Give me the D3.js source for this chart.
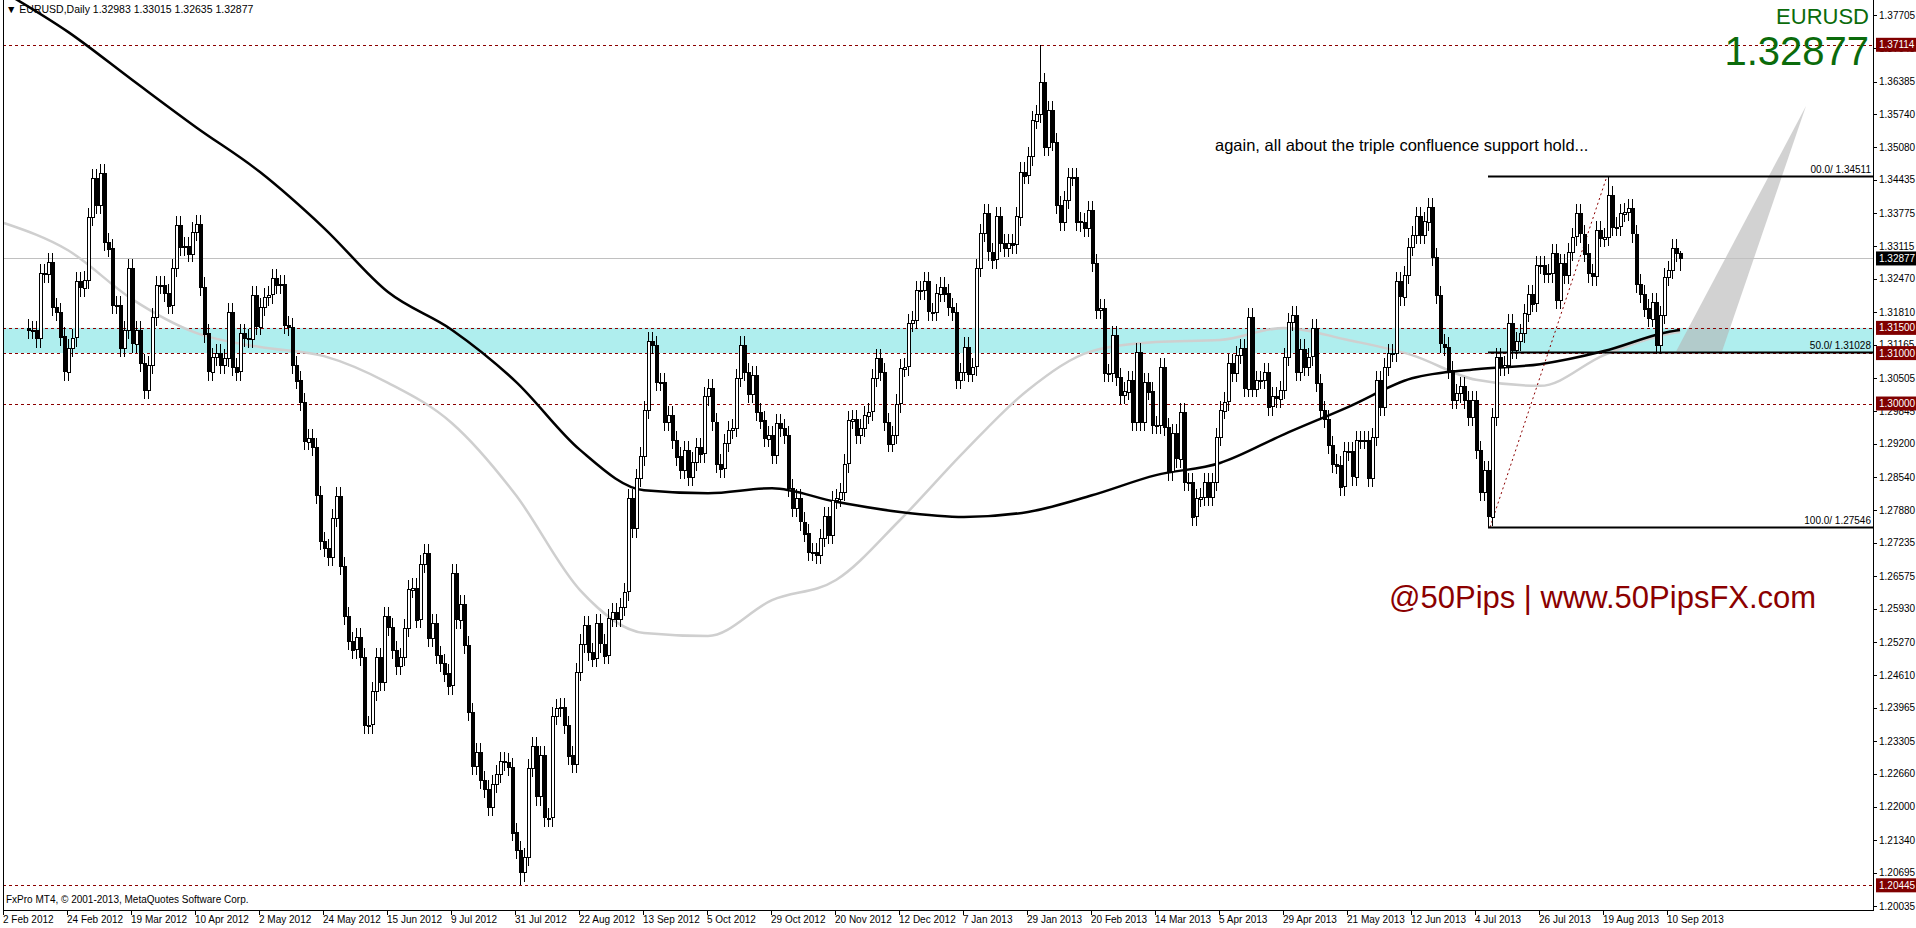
<!DOCTYPE html>
<html>
<head>
<meta charset="utf-8">
<script src="https://cdn.jsdelivr.net/npm/d3@7"></script>
<style>
  body { margin: 0; background: #fff; overflow: hidden; }
  svg { display: block; font-family: "Liberation Sans", Arial, sans-serif; }
</style>
</head>
<body>
<div id="chart"></div>
<script>
// daily closes, in pips above 1.20000 (1150 = 1.31500)
const closes = [
  1146,1145,1129,1258,1258,1281,1192,1182,1133,1063,1110,1130,1242,1230,1245,1370,
  1447,1394,1457,1321,1308,1195,1195,1110,1146,1268,1119,1146,1080,1027,1076,1172,
  1235,1235,1220,1195,1268,1354,1311,1313,1298,1341,1356,1232,1139,1063,1093,1100,
  1077,1090,1182,1073,1063,1139,1130,1128,1215,1153,1192,1212,1216,1248,1235,1237,
  1156,1152,1077,1046,1003,925,932,914,819,727,713,695,773,816,678,578,
  529,512,536,497,363,363,429,497,447,578,557,511,480,497,554,632,
  635,572,681,703,535,564,501,486,465,440,663,571,603,521,388,281,
  309,253,235,200,246,266,291,289,280,150,114,70,100,277,320,220,
  302,179,179,380,396,398,363,302,285,
  468,524,561,508,495,564,524,501,574,587,574,597,627,812,752,852,
  895,987,1123,1116,1043,1043,964,977,928,895,868,908,855,885,914,901,
  1014,1030,964,
  881,871,921,947,951,1050,1116,1063,1020,1057,984,967,931,938,898,961,
  951,938,832,792,812,766,743,706,706,700,733,776,739,809,812,825,
  881,967,970,938,951,977,984,1050,1090,1063,
  964,921,938,1000,1070,1073,1159,1165,1225,1224,1242,1182,1182,1219,1232,1219,
  1192,1182,1047,1063,1113,1060,1073,1268,1338,1377,1301,1285,1371,1318,1308,1318,
  1315,1371,1460,1453,1490,1562,1575,1638,1509,1582,1519,1394,1361,1404,1450,1450,
  1361,1359,1348,1384,1278,1185,1189,1060,1060,1136,1053,1017,1024,1047,964,1103,
  964,1043,1024,957,958,1073,954,865,941,891,984,845,845,776,812,815,
  845,815,845,934,987,1004,1080,1060,1096,1110,1030,1172,1030,1047,1047,1063,
  994,1014,1010,1027,1093,1162,
  1176,1063,1109,1073,1093,1149,1040,987,970,918,881,878,835,905,905,855,
  928,928,928,852,934,1047,994,1073,1100,1100,1242,1212,1255,1311,1334,1371,
  1334,1361,1390,1291,1215,1119,1113,1067,1007,1020,1034,1007,974,1007,908,825,
  868,776,974,1093,1073,1076,1159,1106,1123,1139,1179,1218,1199,1275,1275,1258,
  1258,1298,1205,1278,1255,1301,1331,1377,1337,1298,1258,1252,1344,1328,1331,1414,
  1351,1351,1377,1380,1387,1337,1238,1218,1189,1169,1202,1116,1176,1251,1265,1308,
  1298,1288
];
const firstOpen = 1150;
const wickPips = 18;
// known extremes: [bar index, high, low] in pips
const extremes = [
  [123, null, 44.5],
  [253, 1711.4, null],
  [365, null, 754.6],
  [395, 1451.1, null]
];
const lastBar = {o: 1298.3, h: 1301.5, l: 1263.5};

// moving averages, read at every 16th bar slot (slot 0 = 2 Feb 2012)
const maSlots = [0,16,32,48,64,80,96,112,128,144,160,176,192,208,224,240,256,272,288,304,320,336,352,368,384,400,416,419];
const maSlow = [1.3816,1.3737,1.3642,1.3548,1.3459,1.3348,1.3221,1.3146,1.3043,1.2908,1.2828,1.2822,1.2832,1.2805,1.2785,1.2775,1.2785,1.2818,1.2858,1.2882,1.2939,1.2993,1.3050,1.3068,1.3078,1.3104,1.3142,1.3146];
const maFast = [1.3358,1.3304,1.3207,1.3140,1.3112,1.3094,1.3041,1.2961,1.2818,1.2630,1.2545,1.2539,1.2610,1.2650,1.2769,1.2904,1.3027,1.3104,1.3122,1.3126,1.3150,1.3126,1.3096,1.3047,1.3035,1.3096,1.3138,1.3142];

const dateLabels = ["2 Feb 2012","24 Feb 2012","19 Mar 2012","10 Apr 2012","2 May 2012","24 May 2012",
  "15 Jun 2012","9 Jul 2012","31 Jul 2012","22 Aug 2012","13 Sep 2012","5 Oct 2012","29 Oct 2012",
  "20 Nov 2012","12 Dec 2012","7 Jan 2013","29 Jan 2013","20 Feb 2013","14 Mar 2013","5 Apr 2013",
  "29 Apr 2013","21 May 2013","12 Jun 2013","4 Jul 2013","26 Jul 2013","19 Aug 2013","10 Sep 2013"];
const priceTicks = [1.37705,1.37045,1.36385,1.35740,1.35080,1.34435,1.33775,1.33115,1.32470,1.31810,
  1.31165,1.30505,1.29845,1.29200,1.28540,1.27880,1.27235,1.26575,1.25930,1.25270,1.24610,1.23965,
  1.23305,1.22660,1.22000,1.21340,1.20695,1.20035];
const levels = [1.37114, 1.31500, 1.31000, 1.30000, 1.20445];
const lastPrice = 1.32877;
const fibo = [{lv: "00.0", p: 1.34511}, {lv: "50.0", p: 1.31028}, {lv: "100.0", p: 1.27546}];

const width = 1916, height = 928;
const mLeft = 3, mRight = 1873, mTop = 0, mBottom = 910;

const svg = d3.select("#chart").append("svg")
    .attr("width", width).attr("height", height);

const x = d3.scaleLinear().domain([0, 419]).range([4, 1680]);
const y = d3.scaleLinear().domain([1.20035, 1.37705]).range([906, 15]);

const n = closes.length;
const slot0 = 420 - n; // bars are right-aligned on the last slot
const px = v => 1.2 + v / 10000;
const bars = closes.map((c, i) => {
  let o = i === 0 ? firstOpen : closes[i - 1];
  let h = Math.max(o, c) + wickPips, l = Math.min(o, c) - wickPips;
  extremes.filter(e => e[0] === i).forEach(e => {
    if (e[1] != null) h = e[1];
    if (e[2] != null) l = e[2];
  });
  if (i === n - 1) { o = lastBar.o; h = lastBar.h; l = lastBar.l; }
  return {slot: slot0 + i, o: px(o), c: px(c), h: px(h), l: px(l)};
});

svg.append("clipPath").attr("id", "plot").append("rect")
    .attr("x", mLeft).attr("y", mTop).attr("width", mRight - mLeft).attr("height", mBottom - mTop);
const plot = svg.append("g").attr("clip-path", "url(#plot)");

// support band
plot.append("rect")
    .attr("x", mLeft).attr("width", mRight - mLeft)
    .attr("y", y(1.315)).attr("height", y(1.31) - y(1.315))
    .attr("fill", "#afeeee");

// gray projection wedge
plot.append("path")
    .attr("d", d3.line()([[1676, y(1.3103)], [1806, 106], [1722, y(1.3103)]]))
    .attr("fill", "#b4b4b4").attr("fill-opacity", 0.6);

// last price line
plot.append("line")
    .attr("x1", mLeft).attr("x2", mRight)
    .attr("y1", Math.round(y(lastPrice)) + 0.5).attr("y2", Math.round(y(lastPrice)) + 0.5)
    .attr("stroke", "#c0c0c0");

// dashed levels
plot.selectAll(".lvl").data(levels).join("line")
    .attr("x1", mLeft).attr("x2", mRight)
    .attr("y1", d => Math.round(y(d)) + 0.5).attr("y2", d => Math.round(y(d)) + 0.5)
    .attr("stroke", "#8b0000").attr("stroke-dasharray", "3,3");

// moving averages
const maLine = d3.line().curve(d3.curveMonotoneX).x((d, i) => x(maSlots[i])).y(d => y(d));
plot.append("path").datum(maFast).attr("d", maLine)
    .attr("fill", "none").attr("stroke", "#cfcfcf").attr("stroke-width", 2.5);
plot.append("path").datum(maSlow).attr("d", maLine)
    .attr("fill", "none").attr("stroke", "#000").attr("stroke-width", 2.5);

// fibo retracement
const fx0 = 1488;
plot.append("line")
    .attr("x1", 1490).attr("y1", y(fibo[2].p)).attr("x2", 1607).attr("y2", y(fibo[0].p))
    .attr("stroke", "#8b0000").attr("stroke-dasharray", "2,3");
plot.selectAll(".fib").data(fibo).join("line")
    .attr("x1", fx0).attr("x2", mRight)
    .attr("y1", d => Math.round(y(d.p)) + 0.5).attr("y2", d => Math.round(y(d.p)) + 0.5)
    .attr("stroke", "#000").attr("stroke-width", 2);
plot.selectAll(".fibt").data(fibo).join("text")
    .attr("x", mRight - 2).attr("y", d => y(d.p) - 3)
    .attr("text-anchor", "end").attr("font-size", 10)
    .text(d => `${d.lv}/ ${d.p.toFixed(5)}`);

// candles
const cg = plot.append("g").attr("shape-rendering", "crispEdges");
cg.selectAll(".w").data(bars).join("line")
    .attr("x1", d => Math.round(x(d.slot)) + 0.5).attr("x2", d => Math.round(x(d.slot)) + 0.5)
    .attr("y1", d => y(d.h)).attr("y2", d => y(d.l))
    .attr("stroke", "#000");
cg.selectAll(".b").data(bars).join("rect")
    .attr("x", d => Math.round(x(d.slot)) - 1)
    .attr("y", d => Math.round(y(Math.max(d.o, d.c))) + 0.5)
    .attr("width", 3)
    .attr("height", d => Math.max(1, Math.round(Math.abs(y(d.o) - y(d.c)))))
    .attr("fill", d => d.c >= d.o ? "#fff" : "#000")
    .attr("stroke", "#000").attr("stroke-width", 1);

// frame
svg.append("path")
    .attr("d", `M${mLeft + 0.5},${mTop}V${mBottom + 0.5}H${mRight + 0.5}V${mTop}`)
    .attr("fill", "none").attr("stroke", "#000").attr("shape-rendering", "crispEdges");

// price axis
const ya = svg.append("g").attr("font-size", 10);
ya.selectAll("line").data(priceTicks).join("line")
    .attr("x1", mRight).attr("x2", mRight + 4)
    .attr("y1", d => Math.round(y(d)) + 0.5).attr("y2", d => Math.round(y(d)) + 0.5)
    .attr("stroke", "#000");
ya.selectAll("text").data(priceTicks).join("text")
    .attr("x", mRight + 6).attr("y", d => y(d) + 3.5)
    .text(d => d.toFixed(5));

// level price tags
const tags = levels.map(p => ({p, bg: "#800000"})).concat([{p: lastPrice, bg: "#000"}]);
const tg = svg.append("g").attr("font-size", 10);
tg.selectAll("rect").data(tags).join("rect")
    .attr("x", mRight + 3).attr("y", d => y(d.p) - 7).attr("width", 40).attr("height", 14)
    .attr("fill", d => d.bg);
tg.selectAll("text").data(tags).join("text")
    .attr("x", mRight + 6).attr("y", d => y(d.p) + 3.5)
    .attr("fill", "#fff").text(d => d.p.toFixed(5));

// date axis
const xa = svg.append("g").attr("font-size", 10);
xa.selectAll("line").data(dateLabels).join("line")
    .attr("x1", (d, i) => Math.round(x(i * 16) - 1) + 0.5).attr("x2", (d, i) => Math.round(x(i * 16) - 1) + 0.5)
    .attr("y1", mBottom).attr("y2", mBottom + 5).attr("stroke", "#000");
xa.selectAll("text").data(dateLabels).join("text")
    .attr("x", (d, i) => x(i * 16) - 1).attr("y", 923)
    .text(d => d);

// captions
svg.append("text").attr("x", 6).attr("y", 13).attr("font-size", 10.5)
    .text("\u25BC EURUSD,Daily  1.32983 1.33015 1.32635 1.32877");
svg.append("text").attr("x", 6).attr("y", 903).attr("font-size", 10)
    .text("FxPro MT4, \u00A9 2001-2013, MetaQuotes Software Corp.");
svg.append("text").attr("x", 1869).attr("y", 24).attr("text-anchor", "end")
    .attr("font-size", 22).attr("fill", "#0b6b0b").text("EURUSD");
svg.append("text").attr("x", 1869).attr("y", 65).attr("text-anchor", "end")
    .attr("font-size", 40).attr("fill", "#0b6b0b").text(lastPrice.toFixed(5));
svg.append("text").attr("x", 1215).attr("y", 151).attr("font-size", 16.5)
    .text("again, all about the triple confluence support hold...");
svg.append("text").attr("x", 1389).attr("y", 608).attr("font-size", 31)
    .attr("fill", "#8b0000").text("@50Pips | www.50PipsFX.com");
</script>
</body>
</html>
